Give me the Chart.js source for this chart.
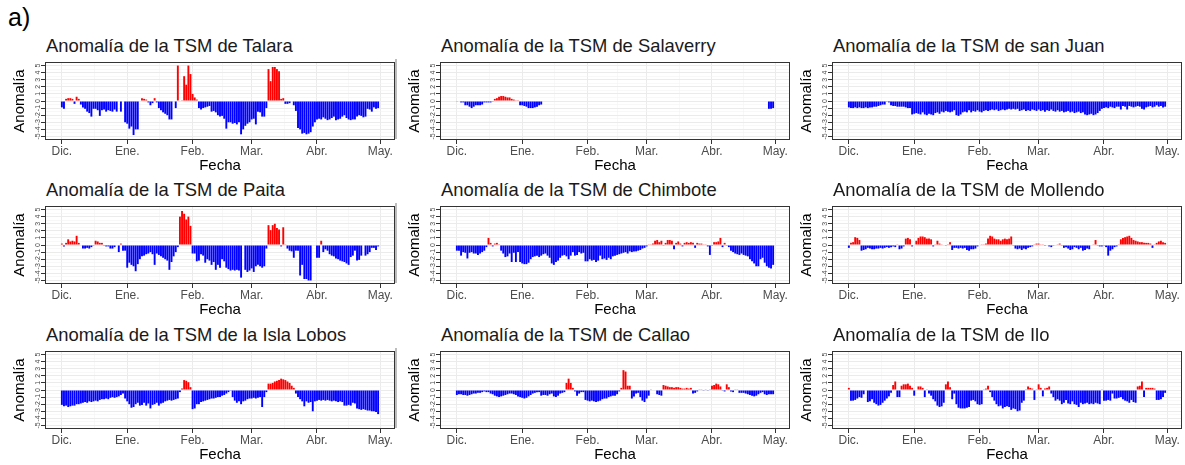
<!DOCTYPE html>
<html>
<head>
<meta charset="utf-8">
<script src="https://cdn.jsdelivr.net/npm/chart.js@4.4.0/dist/chart.umd.min.js"></script>
<style>
body { margin: 0; background: #fff; font-family: "Liberation Sans", Arial, sans-serif; }
#wrap { position: relative; width: 1185px; height: 465px; overflow: hidden; }
.tag { position: absolute; left: 8px; top: 5px; font-size: 25px; line-height: 25px; color: #000; }
.ttl { position: absolute; font-size: 18.4px; line-height: 18px; color: #1a1a1a; white-space: nowrap; }
.sep { position: absolute; width: 2px; background: #bdbdbd; }
canvas { position: absolute; }
</style>
</head>
<body>
<div id="wrap"><div class="tag">a)</div></div>
<script>
// daily SST anomaly, index 0 = 1 Dic ... 150 = 30 Abr
const talara = [
  -0.9,-1.1,0.3,0.4,0.4,0.3,-0.4,0.6,0.3,-0.5,
  -0.9,-1.1,-1.5,-1.7,-2.2,-1.1,-1.1,-1.3,-2.1,-1.3,
  -1.2,-1.5,-1.3,-1.4,-1.5,-1.2,-1.5,null,-1.5,null,
  -3.0,-3.2,-3.9,-3.6,-4.8,-4.0,-4.0,null,0.4,0.3,
  0.2,-0.2,-0.6,-0.3,0.4,-0.2,-1.0,-1.3,-1.6,-1.8,
  -2.0,-2.6,-2.6,null,-1.0,5.0,null,0.1,3.5,2.3,
  5.0,3.8,1.0,0.5,0.2,-1.0,-1.2,-1.0,-0.9,-0.8,
  -0.7,-1.5,-1.4,-1.6,-2.0,-2.2,-2.1,-2.5,-3.9,-3.0,
  -3.0,-3.2,-3.1,-3.3,-3.0,-4.7,-4.0,-3.5,-3.2,-3.0,
  -2.6,-2.5,-3.3,-1.5,-1.6,-2.2,-2.2,-1.0,4.5,2.8,
  4.8,4.8,4.5,4.2,0.3,0.4,-0.4,-0.4,-0.3,null,
  -0.6,-1.4,-3.8,-4.0,-4.6,-4.5,-4.7,-4.6,-4.4,-3.6,
  -3.0,-2.6,-2.5,-2.6,-2.3,-2.5,-2.7,-2.6,-2.4,-2.2,
  -2.7,-2.6,-2.5,-2.2,-2.0,-2.4,-2.6,-2.7,-2.6,-2.6,
  -2.2,-2.0,-2.1,-2.3,-2.2,-1.1,-1.2,-1.5,-0.9,-1.1,
  -1.0
];
const salaverry = [
  -0.05,null,-0.2,-0.2,-0.6,-0.6,-0.8,-1.0,-0.8,-0.6,
  -0.6,-0.6,-0.5,-0.2,-0.2,-0.2,-0.2,-0.1,0.3,0.4,
  0.6,0.7,0.7,0.6,0.5,0.5,0.3,0.2,0.1,0.1,
  -0.6,-0.6,-0.7,-0.8,-1.0,-1.0,-1.0,-0.9,-0.8,-0.6,
  -0.5,null,null,null,null,null,null,null,null,null,
  null,null,null,null,null,null,null,null,null,null,
  null,null,null,null,null,null,null,null,null,null,
  null,null,null,null,null,null,null,null,null,null,
  null,null,null,null,null,null,null,null,null,null,
  null,null,null,null,null,null,null,null,null,null,
  null,null,null,null,null,null,null,null,null,null,
  null,null,null,null,null,null,null,null,null,null,
  null,null,null,null,null,null,null,null,null,null,
  null,null,null,null,null,null,null,null,null,null,
  null,null,null,null,null,null,null,null,-1.1,-1.1,
  -1.0
];
const sanJuan = [
  -0.9,-1.0,-1.0,-0.9,-1.0,-0.9,-1.0,-1.0,-0.9,-1.0,
  -0.9,-0.9,-0.8,-0.8,-0.7,-0.6,-0.5,-0.5,-0.1,-0.2,
  -0.6,-0.7,-0.7,-0.8,-0.8,-0.8,-0.8,-0.9,-1.0,-1.0,
  -1.9,-1.8,-1.7,-1.8,-1.9,-1.6,-1.9,-2.0,-1.8,-1.9,
  -2.0,-1.7,-1.6,-1.8,-1.5,-1.6,-1.4,-1.5,-1.6,-1.5,
  -1.3,-2.0,-2.1,-1.9,-1.6,-1.5,-1.6,-1.3,-1.6,-1.4,
  -1.5,-1.3,-1.5,-1.6,-1.4,-1.3,-1.4,-1.3,-1.2,-1.3,
  -1.2,-1.4,-1.3,-1.2,-1.3,-1.2,-1.1,-1.2,-1.1,-1.2,
  -1.1,-1.4,-1.3,-1.2,-1.4,-1.3,-1.4,-1.2,-1.3,-1.4,
  -1.2,-1.4,-1.3,-1.5,-1.3,-1.4,-1.2,-1.4,-1.5,-1.3,
  -1.5,-1.4,-1.6,-1.5,-1.4,-1.6,-1.5,-1.7,-1.6,-1.5,
  -1.7,-1.6,-1.9,-2.0,-1.9,-1.8,-2.0,-1.9,-1.7,-1.4,
  -1.1,-1.0,-0.9,-1.0,-0.8,-0.9,-1.0,-0.8,-0.8,-1.2,
  -0.7,-0.8,-1.2,-0.7,-0.8,-0.9,-0.8,-0.7,-0.8,-1.1,
  -1.2,-0.9,-0.8,-0.7,-0.9,-0.8,-0.6,-0.8,-0.7,-0.9,
  -0.8
];
const paita = [
  0.2,-0.2,0.3,0.8,0.5,0.6,0.5,1.3,0.3,null,
  -0.5,-0.5,-0.4,-0.5,-0.3,-0.1,0.6,0.5,0.3,0.3,
  -0.1,-0.2,-0.2,-0.5,-0.5,-0.3,null,-1.0,0.2,-0.8,
  -0.8,-3.2,-2.5,-2.8,-3.0,-3.7,-2.7,-2.0,-1.6,-1.5,
  -1.3,-1.2,-1.0,-1.3,-2.8,-1.2,-1.4,-1.6,-1.8,-2.0,
  -2.2,-3.5,-2.4,-1.6,-1.0,-0.3,4.0,4.8,4.4,3.6,
  4.0,2.7,-1.2,-1.2,-2.3,-2.2,-1.3,-1.5,-2.5,-2.0,
  -2.2,-2.8,-2.4,-3.5,-2.8,-3.2,-2.0,-2.3,-3.2,-3.4,
  -3.6,-3.5,-3.6,-3.5,-3.6,-4.6,null,-3.5,-3.8,-3.6,
  -3.3,-3.8,-3.0,-2.8,-3.0,-3.2,-3.0,-0.5,2.8,2.1,
  2.8,3.0,2.4,2.2,-0.2,2.5,0.1,-0.5,-0.8,-0.9,
  -1.8,-0.8,-0.8,-4.3,-2.8,-4.8,-4.8,-5.0,-5.0,null,
  null,-1.8,-1.8,0.6,-1.0,-0.6,-0.8,-1.3,-1.5,-1.6,
  -1.9,-2.0,-2.2,-2.3,-2.4,-2.6,-2.8,-1.7,-1.5,-0.8,
  -2.2,-2.1,-1.5,null,-1.5,-1.3,-1.0,-0.4,-0.4,-0.7,
  -0.2
];
const chimbote = [
  -0.8,-0.8,-1.5,-1.0,-1.1,-1.9,-1.1,-1.0,-1.2,-1.2,
  -1.4,-1.2,-1.0,-0.8,-0.3,1.0,0.3,-0.2,0.2,0.3,
  0.1,-0.8,-1.2,-1.7,-1.6,-1.2,-2.4,-1.1,-2.4,-1.0,
  -2.4,-2.6,-2.7,-2.7,-2.5,-2.0,-1.7,-1.6,-1.5,-1.7,
  -1.5,-1.3,-1.2,-1.5,-1.8,-2.6,-2.8,-2.4,-2.2,-1.8,
  -1.5,-1.4,-1.6,-2.0,-1.5,-1.0,-1.5,-1.4,-1.0,-1.2,
  -1.1,-2.3,-2.3,-2.0,-2.2,-2.1,-2.4,-2.2,-1.5,-2.0,
  -1.9,-2.1,-1.8,-2.0,-1.6,-1.5,-1.4,-1.3,-1.2,-1.1,
  -1.0,-1.2,-0.9,-1.0,-0.9,-0.9,-0.8,-0.7,-0.5,-0.4,
  -0.2,0.1,0.1,0.2,0.6,0.7,0.4,0.6,-0.1,0.3,
  0.7,0.7,0.6,-0.6,0.3,0.5,0.2,-0.2,0.3,0.4,
  0.3,0.4,0.3,-0.4,0.3,0.2,0.2,0.1,0.1,-0.2,
  -1.4,-0.1,0.4,0.4,0.5,1.0,-0.3,0.3,-0.1,-0.3,
  -0.8,-1.0,-1.2,-1.3,-1.4,-1.2,-1.4,-1.5,-1.6,-2.0,
  -2.3,-2.6,-3.0,-3.0,-2.0,-1.8,-2.5,-3.0,-3.2,-3.3,
  -2.8
];
const mollendo = [
  -0.4,0.3,0.4,1.1,1.0,0.7,-0.8,-0.7,-0.6,-0.4,
  -0.5,-0.6,-0.6,-0.5,-0.5,-0.4,-0.5,-0.4,-0.3,-0.4,
  -0.3,-0.2,-0.3,0.1,-0.6,-0.5,-0.2,0.9,1.0,0.8,
  -0.2,null,0.6,1.0,1.2,1.2,1.1,0.9,0.9,0.8,
  -0.2,0.1,0.6,0.2,0.1,null,-0.1,0.1,0.4,-0.7,
  -0.4,-0.4,-0.5,-0.4,-0.5,-0.4,-0.7,-0.8,-0.6,-0.6,
  -0.5,-0.2,null,0.1,0.1,0.2,0.9,1.3,1.2,0.9,
  0.8,0.8,0.6,0.8,0.9,0.8,0.9,1.2,-0.1,-0.5,
  -0.6,-0.5,-0.7,-0.5,-0.6,-0.4,-0.3,-0.2,0.1,0.2,
  0.2,0.1,0.1,-0.1,null,-0.2,-0.3,-0.1,null,0.1,
  0.2,-0.1,-0.4,-0.3,-0.5,-0.7,-0.6,-0.3,-0.4,-0.6,
  -0.4,-0.8,-0.7,-0.5,-0.6,null,0.1,0.7,-0.1,-0.2,
  -0.2,-0.1,-0.3,-1.5,-0.8,-0.6,-0.3,-0.2,0.1,0.8,
  1.0,1.1,1.2,1.3,1.0,0.7,0.6,0.5,0.4,0.4,
  0.3,0.3,0.3,0.2,-0.4,0.1,0.3,0.5,0.6,0.4,
  0.3
];
const islaLobos = [
  -2.1,-2.3,-2.2,-2.4,-2.3,-2.2,-2.2,-2.0,-2.0,-1.9,
  -1.8,-1.7,-1.8,-1.6,-1.7,-1.6,-1.5,-1.6,-1.4,-1.3,
  -1.3,-1.2,-1.3,-1.1,-1.0,-1.1,-1.0,-0.9,-0.7,-0.5,
  -1.2,-1.6,-2.0,-2.5,-2.4,-2.0,-1.8,-2.2,-2.1,-1.8,
  -2.2,-1.9,-2.6,-2.1,-2.0,-1.8,-2.2,-1.9,-1.8,-1.6,
  -1.5,-1.4,-1.5,-1.4,-1.3,-1.2,-0.3,0.2,1.4,1.3,
  1.1,0.4,-2.7,-2.6,-2.0,-2.0,-1.7,-1.6,-1.5,-1.4,
  -1.3,-1.2,-1.2,-1.1,-1.0,-1.0,-0.8,-0.7,-0.5,-0.3,
  -0.1,-1.0,-1.5,-1.8,-1.6,-2.0,-1.6,-1.5,-1.3,-1.2,
  -1.2,-1.1,-1.2,-1.1,-1.0,-2.4,-1.0,-0.3,0.9,0.9,
  1.0,1.2,1.3,1.4,1.6,1.5,1.4,1.2,1.0,0.6,
  0.3,-0.5,-1.0,-1.3,-1.6,-2.3,-1.6,-1.8,-1.7,-3.0,
  -1.6,-1.5,-1.4,-1.5,-1.4,-1.5,-1.4,-1.5,-1.6,-1.5,
  -1.6,-1.7,-1.6,-1.7,-2.2,-2.2,-2.1,-2.2,-1.8,-1.9,
  -2.6,-2.7,-2.8,-2.7,-2.8,-2.9,-2.9,-3.0,-3.0,-3.1,
  -3.4
];
const callao = [
  -0.7,-0.6,-0.6,-0.7,-0.7,-0.8,-0.7,-0.6,-0.5,-0.5,
  -0.4,-0.4,-0.3,-0.2,-0.3,-0.3,-0.5,-0.6,-0.8,-0.9,
  -1.0,-0.9,-0.8,-0.7,-0.6,-0.5,-0.5,-0.6,-0.7,-0.9,
  -1.0,-1.1,-1.2,-1.1,-0.9,-0.7,-0.5,-0.4,-0.3,-0.3,
  -0.8,-0.7,-0.7,-0.8,-0.6,-0.5,-0.9,-1.0,-0.8,-0.5,
  -0.4,-0.3,1.0,1.6,1.0,0.3,-0.2,-0.8,-0.5,-0.3,
  -0.3,-1.4,-1.5,-1.6,-1.5,-1.6,-1.7,-1.6,-1.5,-1.3,
  -1.2,-1.2,-1.0,-0.9,-0.8,-0.8,-0.6,-0.2,0.3,2.8,
  2.6,0.6,0.6,-1.2,-0.9,-0.5,-0.4,-1.0,-1.5,-1.7,
  -1.2,-0.8,0.1,null,null,-0.6,-0.7,-0.8,0.7,0.6,
  0.5,0.4,0.4,0.3,0.4,0.4,0.3,0.2,0.2,0.3,
  0.2,0.3,-0.5,-0.4,-0.2,0.1,0.1,-0.1,0.1,-0.1,
  0.1,0.6,0.7,0.9,0.8,0.5,-0.1,-0.2,0.8,0.4,
  -0.2,-0.3,0.1,0.1,-0.4,-0.4,-0.4,-0.5,-0.6,-0.7,
  -0.8,-0.9,-0.8,-0.6,-0.4,-0.3,-0.6,-0.7,-0.6,-0.6,
  -0.6
];
const ilo = [
  0.3,-1.5,-1.5,-1.4,-1.2,-1.0,-1.1,-0.6,null,-1.7,
  -1.6,-1.3,-1.8,-2.0,-2.2,-2.1,-1.8,-1.5,-1.2,-0.9,
  -0.4,0.7,1.2,-1.0,-1.0,0.6,0.8,0.8,0.9,0.6,
  0.3,-0.8,null,0.5,0.5,0.3,-1.0,0.1,-0.5,-0.8,
  -1.3,-1.6,-2.2,-2.4,-2.3,-1.8,0.8,1.2,0.4,-1.3,
  -0.5,-2.0,-2.5,-2.6,-2.6,-2.6,-2.5,-2.4,-1.5,-1.4,
  -1.6,-2.0,-2.1,-2.0,0.1,0.2,0.6,-0.3,-1.0,-1.5,
  -2.0,-2.3,-2.2,-2.6,-2.4,-2.3,-2.4,-2.8,-2.6,-2.7,
  -3.0,-2.9,-1.8,-1.5,0.1,0.5,0.3,0.2,-1.4,0.1,
  0.8,0.3,-0.9,0.2,0.3,0.5,-0.5,-1.0,-1.5,-1.3,
  -1.5,-2.0,-1.8,-1.4,-1.9,-2.0,-1.6,-2.0,-2.1,-2.4,
  -1.8,-2.0,-1.9,-1.8,-2.0,-1.9,-2.0,-1.8,-1.9,-2.0,
  0.1,-1.5,-1.5,-1.4,-1.5,-0.5,-1.2,-1.2,-1.1,-1.0,
  -1.3,-1.5,-1.6,-1.8,-1.4,-1.7,-1.8,0.5,0.6,1.2,
  -1.0,0.3,0.3,0.3,0.3,0.2,-1.4,-1.4,-1.3,-1.0,
  -0.4
];

const STATIONS = ['Talara', 'Salaverry', 'san Juan', 'Paita', 'Chimbote', 'Mollendo', 'la Isla Lobos', 'Callao', 'Ilo'];
const SERIES = [talara, salaverry, sanJuan, paita, chimbote, mollendo, islaLobos, callao, ilo];

const MONTH_LABELS = ['Dic.', 'Ene.', 'Feb.', 'Mar.', 'Abr.', 'May.'];
const MONTH_STARTS = [0, 31, 62, 90, 121, 151];
const MID_MONTHS = [15.5, 46.5, 76, 105.5, 136];
const Y_TICKS = [-5, -4, -3, -2, -1, 0, 1, 2, 3, 4, 5];
const Y_MINOR = [-4.5, -3.5, -2.5, -1.5, -0.5, 0.5, 1.5, 2.5, 3.5, 4.5];

const COL_LEFT = [0, 395, 787];
const PLOT_TOP = [62, 206, 351];
const FONT = '"Liberation Sans", Arial, sans-serif';

// panel border + rotated y tick labels
const framePlugin = {
    id: 'frame',
    afterDraw(chart) {
        const { ctx, chartArea: a } = chart;
        const y = chart.scales.y;
        ctx.save();
        ctx.strokeStyle = '#333333';
        ctx.lineWidth = 1;
        ctx.strokeRect(a.left + 0.5, a.top + 0.5, a.right - a.left - 1, a.bottom - a.top - 1);
        ctx.fillStyle = '#4d4d4d';
        ctx.font = '7px ' + FONT;
        ctx.textAlign = 'center';
        ctx.textBaseline = 'alphabetic';
        Y_TICKS.forEach(v => {
            ctx.save();
            ctx.translate(a.left - 5, y.getPixelForValue(v));
            ctx.rotate(-Math.PI / 2);
            ctx.fillText(String(v), 0, 0);
            ctx.restore();
        });
        ctx.restore();
    }
};

function makeTicks(major, minor) {
    return major.map(v => ({ value: v, major: true }))
        .concat(minor.map(v => ({ value: v, major: false })))
        .sort((p, q) => p.value - q.value);
}

const gridStyle = {
    offset: false,
    color: ctx => ctx.tick && ctx.tick.major ? '#ebebeb' : '#f3f3f3',
    lineWidth: ctx => ctx.tick && ctx.tick.major ? 1 : 0.6,
    tickColor: ctx => ctx.tick && ctx.tick.major ? '#333333' : 'rgba(0,0,0,0)',
    tickLength: 4
};

function drawPanel(i) {
    const col = i % 3, row = Math.floor(i / 3);
    const left = COL_LEFT[col], top = PLOT_TOP[row];
    const wrap = document.getElementById('wrap');

    const title = document.createElement('div');
    title.className = 'ttl';
    title.style.left = (left + 46) + 'px';
    title.style.top = (top - 25) + 'px';
    title.textContent = 'Anomalía de la TSM de ' + STATIONS[i];
    wrap.appendChild(title);

    if (col === 1) {
        const sep = document.createElement('div');
        sep.className = 'sep';
        sep.style.left = '395px';
        sep.style.top = (top - 3) + 'px';
        sep.style.height = '80px';
        wrap.appendChild(sep);
    }

    const canvas = document.createElement('canvas');
    canvas.width = 395;
    canvas.height = 117;
    canvas.style.left = left + 'px';
    canvas.style.top = (top - 4) + 'px';
    wrap.appendChild(canvas);

    const values = SERIES[i];
    new Chart(canvas, {
        type: 'bar',
        data: {
            datasets: [{
                data: values.map((v, d) => ({ x: d, y: v })),
                backgroundColor: values.map(v => v > 0 ? '#ff0000' : '#0000ff'),
                barPercentage: 0.9,
                categoryPercentage: 1.0,
                borderWidth: 0
            }]
        },
        options: {
            responsive: false,
            animation: false,
            devicePixelRatio: 1,
            layout: { padding: { top: 4, right: 0, bottom: 0, left: 0 } },
            plugins: { legend: { display: false }, tooltip: { enabled: false } },
            scales: {
                x: {
                    type: 'linear',
                    offset: false,
                    min: -8,
                    max: 158,
                    afterBuildTicks: s => { s.ticks = makeTicks(MONTH_STARTS, MID_MONTHS); },
                    afterFit: s => { s.height = 35; },
                    ticks: {
                        autoSkip: false,
                        maxRotation: 0,
                        padding: 0,
                        color: '#4d4d4d',
                        font: { family: FONT, size: 12 },
                        callback: v => {
                            const k = MONTH_STARTS.indexOf(v);
                            return k >= 0 ? MONTH_LABELS[k] : '';
                        }
                    },
                    grid: gridStyle,
                    border: { display: false },
                    title: {
                        display: true, text: 'Fecha', color: '#000',
                        font: { family: FONT, size: 15 }, padding: { top: 0, bottom: 0 }
                    }
                },
                y: {
                    min: -5.5,
                    max: 5.5,
                    afterBuildTicks: s => { s.ticks = makeTicks(Y_TICKS, Y_MINOR); },
                    afterFit: s => { s.width = 45; },
                    ticks: { display: false },
                    grid: gridStyle,
                    border: { display: false },
                    title: {
                        display: true, text: 'Anomalía', color: '#000',
                        font: { family: FONT, size: 15 }, padding: { top: 11, bottom: 0 }
                    }
                }
            }
        },
        plugins: [framePlugin]
    });
}

SERIES.forEach((_, i) => drawPanel(i));
</script>
</body>
</html>
